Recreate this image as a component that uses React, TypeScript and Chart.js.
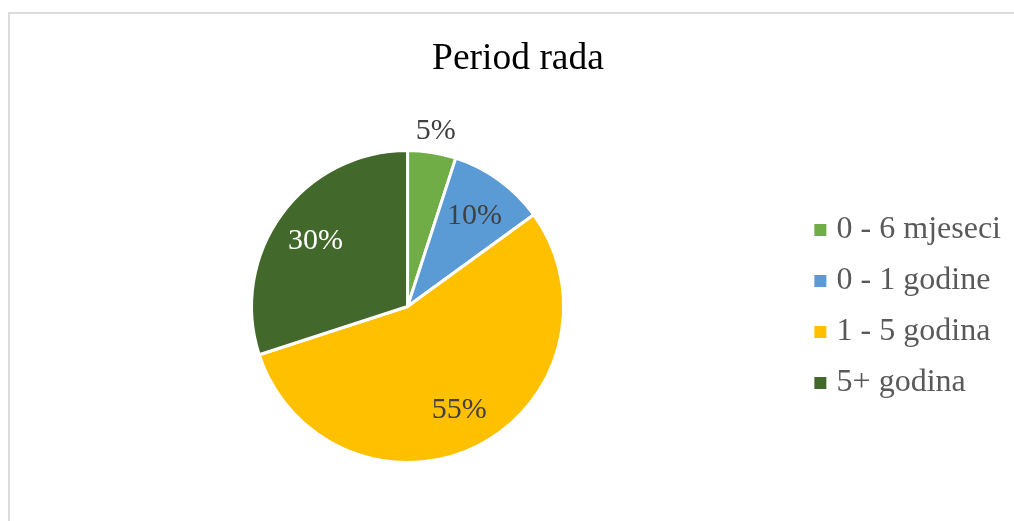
import React, { useEffect, useRef } from "react";
import { Chart, registerables } from "chart.js";

Chart.register(...registerables);

const TITLE = "Period rada";
const categories = ["0 - 6 mjeseci", "0 - 1 godine", "1 - 5 godina", "5+ godina"];
const values = [5, 10, 55, 30];
const sliceColors = ["#70ad47", "#5b9bd5", "#ffc000", "#43682b"];
const labelColors = ["#404040", "#404040", "#404040", "#ffffff"];

const SERIF = '"Liberation Serif", "Times New Roman", serif';

const pieLabels = {
  id: "pieLabels",
  afterDatasetsDraw(chart: any) {
    const ctx = chart.ctx as CanvasRenderingContext2D;
    const meta = chart.getDatasetMeta(0);
    const data = chart.data.datasets[0].data as number[];
    const total = data.reduce((a, b) => a + b, 0);
    ctx.save();
    ctx.font = `30px ${SERIF}`;
    ctx.textAlign = "center";
    ctx.textBaseline = "middle";
    meta.data.forEach((arc: any, i: number) => {
      const p = arc.getProps(["x", "y", "startAngle", "endAngle", "outerRadius"], true);
      const mid = (p.startAngle + p.endAngle) / 2;
      const frac = data[i] / total;
      const outside = frac < 0.08;
      const r = outside ? p.outerRadius + 24 : p.outerRadius * 0.73;
      ctx.fillStyle = outside ? "#404040" : labelColors[i];
      ctx.fillText(`${Math.round(frac * 100)}%`, p.x + Math.cos(mid) * r, p.y + Math.sin(mid) * r + 2);
    });
    ctx.restore();
  },
};

export default function App() {
  const ref = useRef<HTMLCanvasElement | null>(null);

  useEffect(() => {
    if (!ref.current) return;
    const baseGen = (Chart as any).overrides.doughnut.plugins.legend.labels.generateLabels;
    const chart = new Chart(ref.current, {
      type: "pie",
      data: {
        labels: categories,
        datasets: [
          {
            data: values,
            backgroundColor: sliceColors,
            borderColor: "#ffffff",
            borderWidth: 3,
          },
        ],
      },
      options: {
        responsive: false,
        animation: false,
        radius: 156,
        layout: { padding: { left: 25, right: 3, top: 0, bottom: 0 } },
        plugins: {
          title: {
            display: true,
            text: TITLE,
            color: "#000000",
            font: { family: SERIF, size: 37.5, weight: "normal", lineHeight: 1.2 },
            padding: { top: 37, bottom: 10 },
          },
          subtitle: {
            display: true,
            text: "",
            position: "right",
            fullSize: false,
            weight: 500,
            font: { size: 1, lineHeight: 1 },
            padding: { top: 10, bottom: 0 },
          },
          legend: {
            display: true,
            position: "right",
            fullSize: false,
            labels: {
              color: "#595959",
              font: { family: SERIF, size: 32 },
              usePointStyle: true,
              pointStyle: "rect",
              boxWidth: 0.5,
              boxHeight: 12,
              padding: 19,
              generateLabels: (c: any) =>
                baseGen(c).map((l: any) => ({ ...l, lineWidth: 0, strokeStyle: "rgba(0,0,0,0)" })),
            },
          },
          tooltip: { enabled: false },
        },
      } as any,
      plugins: [pieLabels],
    });
    return () => chart.destroy();
  }, []);

  return (
    <>
      <div
        style={{
          position: "fixed",
          left: 8,
          top: 12,
          right: -10,
          bottom: -10,
          borderTop: "2px solid #dcdcdc",
          borderLeft: "2px solid #dcdcdc",
          background: "#ffffff",
        }}
      />
      <canvas
        ref={ref}
        width={1014}
        height={521}
        style={{ position: "fixed", left: 0, top: 0, width: 1014, height: 521 }}
      />
    </>
  );
}
